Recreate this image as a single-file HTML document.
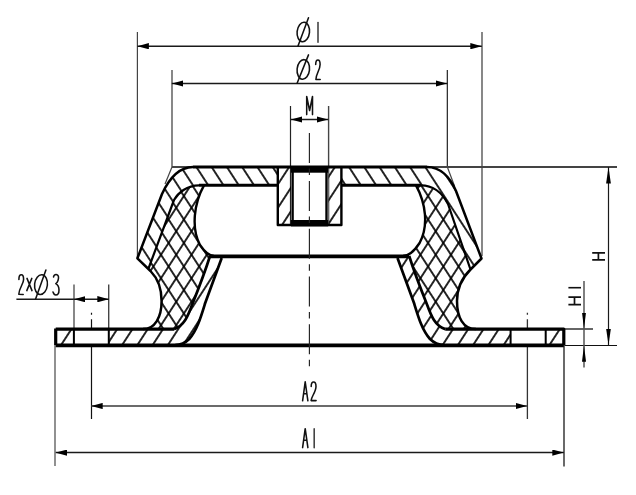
<!DOCTYPE html>
<html><head><meta charset="utf-8">
<style>
html,body{margin:0;padding:0;background:#fff;}
body{width:636px;height:495px;overflow:hidden;font-family:"Liberation Sans",sans-serif;}
svg{display:block;}
</style></head>
<body>
<svg width="636" height="495" viewBox="0 0 636 495">
<defs>
  <pattern id="hb" patternUnits="userSpaceOnUse" width="12.8" height="4" patternTransform="translate(168.6,266.5) rotate(-33)">
    <rect x="-0.850" y="0" width="1.7" height="4" fill="#000"/>
    <rect x="11.950" y="0" width="1.7" height="4" fill="#000"/>
  </pattern>
  <pattern id="hf" patternUnits="userSpaceOnUse" width="12.8" height="4" patternTransform="translate(168.6,266.5) rotate(33)">
    <rect x="-0.850" y="0" width="1.7" height="4" fill="#000"/>
    <rect x="11.950" y="0" width="1.7" height="4" fill="#000"/>
  </pattern>
  <pattern id="hcap" patternUnits="userSpaceOnUse" width="12.8" height="4" patternTransform="translate(248,176) rotate(-33)">
    <rect x="-0.850" y="0" width="1.7" height="4" fill="#000"/>
    <rect x="11.950" y="0" width="1.7" height="4" fill="#000"/>
  </pattern>
  <pattern id="hplate" patternUnits="userSpaceOnUse" width="12.8" height="4" patternTransform="translate(142.6,337) rotate(33)">
    <rect x="-0.850" y="0" width="1.7" height="4" fill="#000"/>
    <rect x="11.950" y="0" width="1.7" height="4" fill="#000"/>
  </pattern>
  <pattern id="hnut" patternUnits="userSpaceOnUse" width="12.8" height="4" patternTransform="translate(284.8,197.2) rotate(33)">
    <rect x="-0.850" y="0" width="1.7" height="4" fill="#000"/>
    <rect x="11.950" y="0" width="1.7" height="4" fill="#000"/>
  </pattern>
  <marker id="ar" viewBox="0 0 11.5 6.2" refX="11.5" refY="3.1" markerWidth="11.5" markerHeight="6.2" markerUnits="userSpaceOnUse" orient="auto-start-reverse">
    <path d="M0,0 L11.5,3.1 L0,6.2 z" fill="#000"/>
  </marker>
  <marker id="av" viewBox="0 0 16.5 4.8" refX="16.5" refY="2.4" markerWidth="16.5" markerHeight="4.8" markerUnits="userSpaceOnUse" orient="auto-start-reverse">
    <path d="M0,0 L16.5,2.4 L0,4.8 z" fill="#000"/>
  </marker>
  <marker id="av1" viewBox="0 0 16.5 4" refX="16.5" refY="2" markerWidth="16.5" markerHeight="4" markerUnits="userSpaceOnUse" orient="auto-start-reverse">
    <path d="M0,0 L16.5,2 L0,4 z" fill="#000"/>
  </marker>
</defs>
<g stroke="#444" stroke-width="1.2" fill="none">
  <line x1="137.4" y1="32" x2="137.4" y2="258"/>
  <line x1="482.0" y1="32" x2="482.0" y2="256" stroke="#555" stroke-width="1.4"/>
  <line x1="172.0" y1="70" x2="172.0" y2="167" stroke="#555" stroke-width="1.4"/>
  <line x1="447.35" y1="70" x2="447.35" y2="167" stroke="#333" stroke-width="1.3"/>
  <line x1="172.0" y1="167" x2="165" y2="184"/>
  <line x1="447.35" y1="167" x2="454.5" y2="186"/>
  <line x1="290.5" y1="106" x2="290.5" y2="224" stroke="#222"/>
  <line x1="328.6" y1="106" x2="328.6" y2="224" stroke-width="1.4"/>
  <line x1="172.0" y1="167" x2="617" y2="167" stroke-width="1.8"/>
  <line x1="564" y1="345.5" x2="617" y2="345.5" stroke="#111" stroke-width="1.2"/>
  <line x1="564" y1="329" x2="593" y2="329" stroke="#333" stroke-width="1.5"/>
  <line x1="74.0" y1="284.5" x2="74.0" y2="330" stroke="#555" stroke-width="1.4"/>
  <line x1="108.7" y1="284.5" x2="108.7" y2="330" stroke-width="1.4"/>
  <line x1="55.0" y1="345" x2="55.0" y2="466" stroke="#555" stroke-width="1.3"/>
  <line x1="564.0" y1="345" x2="564.0" y2="466.5" stroke="#444" stroke-width="1.6"/>
  <line x1="91.5" y1="312.8" x2="91.5" y2="419" stroke="#111" stroke-width="1.2" stroke-dasharray="2 4.5 200"/>
  <line x1="527.4" y1="312.8" x2="527.4" y2="419" stroke="#333" stroke-width="1.3" stroke-dasharray="2 4.5 200"/>
</g>
<g stroke="#1a1a1a" stroke-width="1.5" fill="none">
  <line x1="137.4" y1="46.2" x2="481.8" y2="46.2" marker-start="url(#ar)" marker-end="url(#ar)"/>
  <line x1="171.8" y1="83.5" x2="447.4" y2="83.5" marker-start="url(#ar)" marker-end="url(#ar)"/>
  <line x1="290.8" y1="119.5" x2="328.3" y2="119.5" marker-start="url(#ar)" marker-end="url(#ar)"/>
  <line x1="608.5" y1="167" x2="608.5" y2="345" marker-start="url(#av)" marker-end="url(#av)" stroke-width="1.2"/>
  <line x1="584.0" y1="281" x2="584.0" y2="329" marker-end="url(#av1)" stroke-width="1.5" stroke="#555"/>
  <line x1="584.0" y1="367.5" x2="584.0" y2="345.2" marker-end="url(#av1)" stroke-width="1.5" stroke="#555"/>
  <line x1="584.0" y1="329" x2="584.0" y2="345.2" stroke-width="1.5" stroke="#555"/>
  <line x1="16.4" y1="299.2" x2="73.9" y2="299.2"/>
  <line x1="73.9" y1="299.2" x2="108.8" y2="299.2" marker-start="url(#ar)" marker-end="url(#ar)"/>
  <line x1="91.2" y1="406" x2="527.1" y2="406" marker-start="url(#ar)" marker-end="url(#ar)" stroke="#3a3a3a" stroke-width="1.3"/>
  <line x1="55.7" y1="452.6" x2="563.8" y2="452.6" marker-start="url(#ar)" marker-end="url(#ar)"/>
</g>
<g stroke="#111" stroke-width="1.55" fill="none" stroke-linecap="round" stroke-linejoin="round">
  <ellipse cx="303.3" cy="32.0" rx="6.2" ry="9.8" transform="rotate(6 303.3 32.0)"/>
  <line x1="298" y1="46" x2="308.5" y2="17.7"/>
  <line x1="318.0" y1="22.6" x2="318.0" y2="42.3" stroke="#444" stroke-width="1.6"/>
  <ellipse cx="303.3" cy="69.4" rx="6.2" ry="9.8" transform="rotate(6 303.3 69.4)"/>
  <line x1="297.1" y1="83.2" x2="308.5" y2="54.9"/>
  <path d="M315.7,64.5 C315.7,58.5 320.1,58.5 320.1,64.5 C320.1,70 315.9,74 315.9,79.4 L320.2,79.4"/>
  <path d="M306.7,114.6 L306.7,96.5 L309.6,110.5 L312.5,96.5 L312.5,114.6"/>
  <path d="M302.6,400.8 L305.2,381.8 L307.9,400.8 M303.7,393.7 L306.9,393.7"/>
  <path d="M311.2,386.5 C311.2,380.5 316,380.5 316,386.5 C316,392 311.1,397 311.1,400.6 L316.1,400.6"/>
  <path d="M302.6,447.6 L305.2,428.7 L307.9,447.6 M303.7,440.2 L306.9,440.2"/>
  <line x1="314.2" y1="428.8" x2="314.2" y2="447.8" stroke="#444" stroke-width="1.6"/>
  <path d="M18.9,279.5 C18.9,276 20,274.8 21.3,274.8 C22.8,274.8 23.6,276.5 23.6,279.5 C23.6,284 19,288 18.8,294.3 L23.2,294.5"/>
  <path d="M27,278.4 L32,290.6 M31.8,278.4 L26.8,290.6"/>
  <ellipse cx="41" cy="284.6" rx="6.4" ry="9.9" transform="rotate(6 41 284.6)"/>
  <line x1="35.6" y1="299" x2="45.9" y2="270"/>
  <path d="M53.5,277 C54,274.5 56,274.3 57,274.8 C58.5,275.5 58.8,278 58,280.5 C57.4,282.3 56.3,283.3 55.8,283.6 C57.5,284.5 59,287 59,290 C59,293 57.5,295 55.8,295 C54.5,295 53.5,293.5 53,292"/>
  <path d="M592.2,252.9 L605,252.9 M592.2,259.8 L605,259.8 M598.4,252.9 L598.4,259.8" stroke-linecap="butt" stroke-width="1.7"/>
  <path d="M568.4,297.2 L581,297.2 M568.4,304.6 L581,304.6 M574.5,297.2 L574.5,304.6" stroke-linecap="butt" stroke-width="1.7"/>
  <line x1="568.4" y1="287.7" x2="581" y2="287.7" stroke-linecap="butt" stroke-width="1.6"/>
</g>
<g>
  <path fill="url(#hcap)" d="M193,167.1 C178,167.1 169,179 162,194 L137.4,258.3 L148.5,268.5 L174,200 C178,193 187,185.3 199,185.3 L277.8,185.3 L277.8,167.1 Z"/>
  <path fill="url(#hcap)" d="M341.4,167.1 L341.4,185.3 L421,185.3 C432,185.3 442,192 448,204 L470.5,269.5 L481.5,258.5 L456,191 C450,177 440,167.1 427,167.1 Z"/>
  <path fill="url(#hb)" d="M199,185.3 C187,185.3 178,193 174,200 L148.5,268.5 L150.5,271 C158.3,279 161.6,288 161.6,301 C161.6,317 155,329.1 143,329.1 L174,329.1 C184,326 188,316 192,305 C198,290 205,272 210,256 L214,256 C208,256 204,251 200,245 C191,228 194,203 204,185.3 Z"/>
  <path fill="url(#hf)" d="M199,185.3 C187,185.3 178,193 174,200 L148.5,268.5 L150.5,271 C158.3,279 161.6,288 161.6,301 C161.6,317 155,329.1 143,329.1 L174,329.1 C184,326 188,316 192,305 C198,290 205,272 210,256 L214,256 C208,256 204,251 200,245 C191,228 194,203 204,185.3 Z"/>
  <path fill="url(#hb)" d="M421,185.3 C432,185.3 442,192 448,204 L470.5,269.5 L470.5,269.5 C462.5,277.5 457,288 457,301 C457,317 463,329.1 476,329.1 L445.2,329.1 C435.2,326 431.2,316 427.2,305 C421.2,290 414.2,272 409.2,256 L403,256 C410,256 415,250 419.6,243 C428.8,226 425.8,203 416,185.3 Z"/>
  <path fill="url(#hf)" d="M421,185.3 C432,185.3 442,192 448,204 L470.5,269.5 L470.5,269.5 C462.5,277.5 457,288 457,301 C457,317 463,329.1 476,329.1 L445.2,329.1 C435.2,326 431.2,316 427.2,305 C421.2,290 414.2,272 409.2,256 L403,256 C410,256 415,250 419.6,243 C428.8,226 425.8,203 416,185.3 Z"/>
  <path fill="url(#hplate)" d="M55.7,329.1 L174,329.1 C184,326 188,316 192,305 C198,290 205,272 210,256 L221.7,258 L205.2,303 C201.2,316 197.2,330 189.2,339 C185.2,343 181.2,345 175.2,345 L55.7,345 Z"/>
  <path fill="url(#hplate)" d="M563.8,329.1 L445.2,329.1 C435.2,326 431.2,316 427.2,305 C421.2,290 414.2,272 409.2,256 L397.5,258 L414,303 C418,316 422,330 430,339 C434,343 438,345 444,345 L563.8,345 Z"/>
  <rect x="73.9" y="329" width="34.9" height="16" fill="#fff"/>
  <rect x="510.6" y="329" width="35.1" height="16" fill="#fff"/>
  <rect x="277.8" y="167.5" width="63.599999999999966" height="57.5" fill="url(#hnut)"/>
  <rect x="291" y="167.5" width="37.2" height="57.5" fill="#fff"/>
</g>
<g stroke="#000" stroke-width="2.7" fill="none" stroke-linejoin="round">
  <path d="M193,167.1 L427,167.1" stroke-width="3"/>
  <path d="M193,167.1 C178,167.1 169,179 162,194 L137.4,258.3 L150.5,271 C158.3,279 161.6,288 161.6,301 C161.6,317 155,329.1 143,329.1" stroke-width="2.5"/>
  <path d="M427,167.1 C440,167.1 450,177 456,191 L481.5,258.5 L470.5,269.5 C462.5,277.5 457,288 457,301 C457,317 463,329.1 476,329.1" stroke-width="2.5"/>
  <path d="M55.7,329.1 L174,329.1 M55.7,328.5 L55.7,345 M445.2,329.1 L563.8,329.1 L563.8,345" stroke-width="3.2"/>
  <path d="M55.7,345.35 L563.8,345.35" stroke-width="3.8"/>
  <path d="M73.9,329.1 L73.9,345 M108.8,329.1 L108.8,345 M510.6,329.1 L510.6,345 M545.7,329.1 L545.7,345" stroke-width="2"/>
  <path d="M199,185.3 C187,185.3 178,193 174,200 L148.5,268.5" stroke-width="2.2"/>
  <path d="M421,185.3 C432,185.3 442,192 448,204 L470.5,269.5" stroke-width="2.2"/>
  <path d="M199,185.3 L277.8,185.3 M341.4,185.3 L421,185.3" stroke-width="3"/>
  <path d="M204,185.3 C194,203 191,228 200,245 C204,251 208,256 214,256" stroke-width="2.4"/>
  <path d="M416,185.3 C425.8,203 428.8,226 419.6,243 C415,250 410,256 403,256" stroke-width="2.4"/>
  <path d="M210,256.4 L409.2,256.4" stroke-width="3.6"/>
  <path d="M210,256 C205,272 198,290 192,305 C188,316 184,326 174,329.1"/>
  <path d="M221.7,258 L205.2,303 C201.2,316 197.2,330 189.2,339 C185.2,343 181.2,345 175.2,345"/>
  <path d="M409.2,256 C414.2,272 421.2,290 427.2,305 C431.2,316 435.2,326 445.2,329.1"/>
  <path d="M397.5,258 L414,303 C418,316 422,330 430,339 C434,343 438,345 444,345"/>
  <path d="M277.8,167.5 L277.8,225 L341.4,225 L341.4,167.5" stroke-width="2.4"/>
  <path d="M292.6,167.5 L292.6,225 M326.5,167.5 L326.5,225" stroke-width="2.4"/>
</g>
<rect x="291" y="166.5" width="37.2" height="6.2" fill="#000"/>
<rect x="291" y="220" width="37.2" height="6.4" fill="#000"/>
<line x1="309.4" y1="133.1" x2="309.4" y2="367.1" stroke="#222" stroke-width="1.15" stroke-dasharray="30 5.5 6.5 5.8"/>
</svg>
</body></html>
